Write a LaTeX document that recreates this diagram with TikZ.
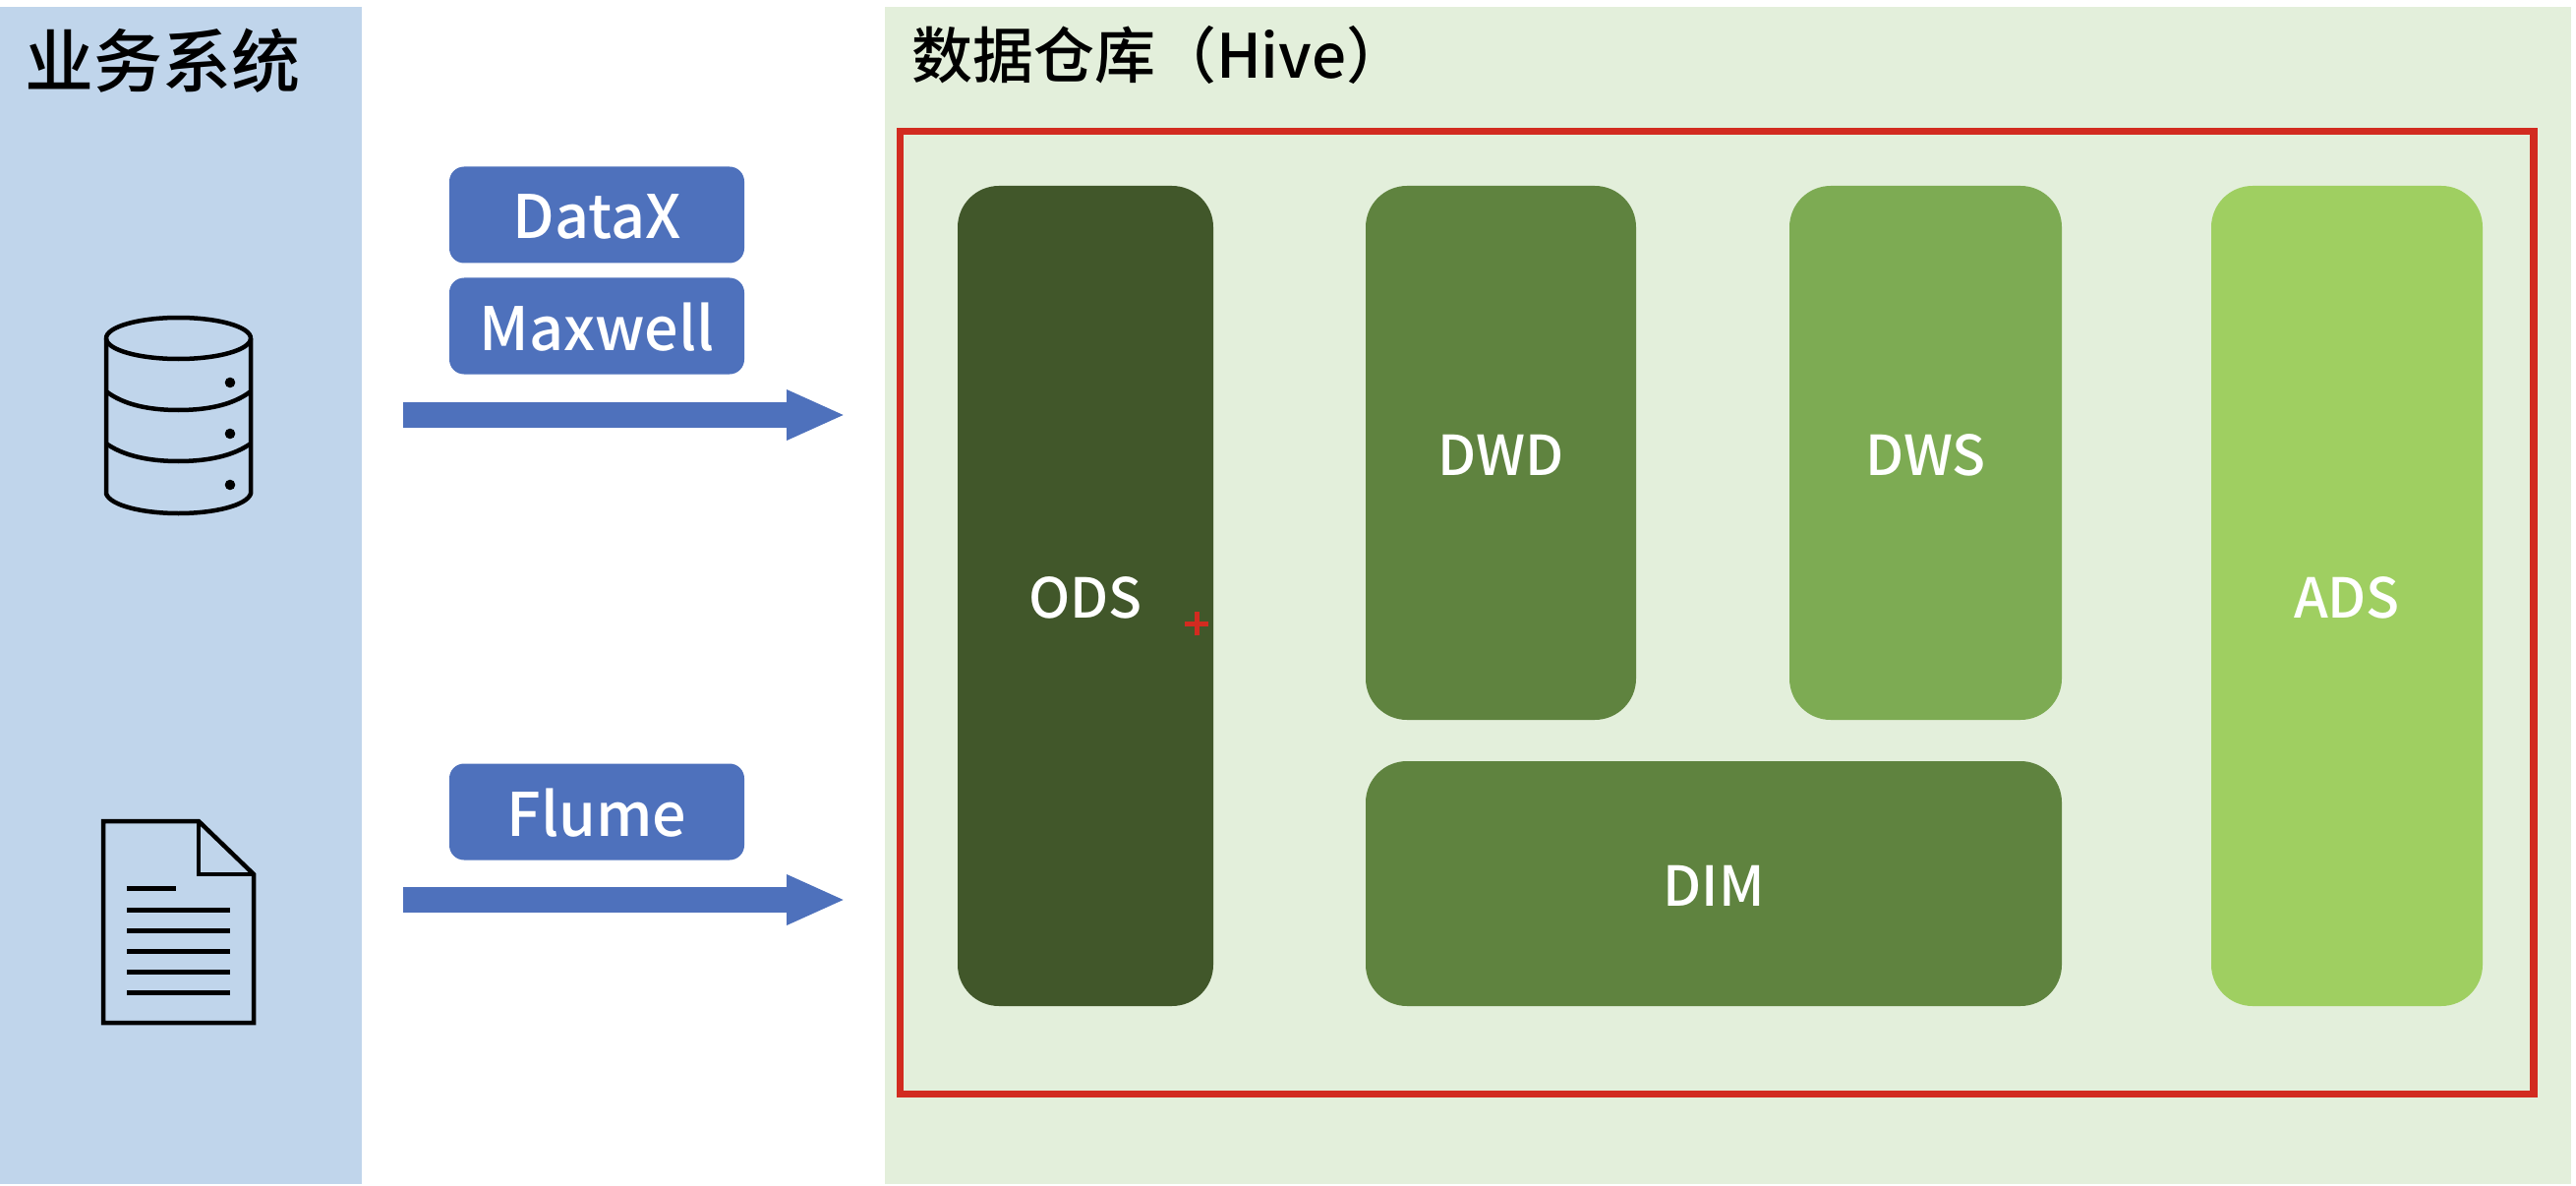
\documentclass[tikz,border=0pt]{standalone}
\usepackage{fontspec}
\setmainfont{Noto Sans CJK SC}
\newfontfamily\lblfont{Noto Sans CJK SC Medium}
\usetikzlibrary{arrows.meta}
\tikzset{
  x=1pt,y=-1pt,
  panel/.style={draw=none,minimum width=#1,inner sep=0pt,outer sep=0pt},
  layer/.style={rounded corners=42pt,draw=none,inner sep=0pt,outer sep=0pt,text=white,text height=45pt,text depth=0pt,font=\lblfont\fontsize{56}{58}\selectfont},
  tool/.style={rounded corners=15pt,draw=none,fill=toolblue,inner sep=0pt,outer sep=0pt,minimum width=300pt,minimum height=98pt,text=white,text height=49pt,text depth=0pt,font=\lblfont\fontsize{61}{63}\selectfont},
  flow/.style={draw=toolblue,line width=26pt,-{Triangle[length=60pt,width=47pt]}},
  icon/.style={draw=black,line width=4.5pt,line join=round},
  docline/.style={draw=black,line width=5pt},
  title/.style={anchor=west,inner sep=0pt,outer sep=0pt,text=black}
}
\definecolor{toolblue}{HTML}{4E71BC}
\definecolor{sysblue}{HTML}{C0D5EB}
\definecolor{wgreen}{HTML}{E3EFDB}
\definecolor{redline}{HTML}{D22B20}
\definecolor{cods}{HTML}{41572A}
\definecolor{cdwd}{HTML}{5F833F}
\definecolor{cdws}{HTML}{7DAB53}
\definecolor{cads}{HTML}{9FCF61}
\begin{document}
\begin{tikzpicture}
\useasboundingbox (0,0) rectangle (2620,1206);
\fill[white] (0,0) rectangle (2620,1206);
\node[panel=368pt,fill=sysblue,minimum height=1197pt] (sys) at (184,605.5) {};
\node[panel=1715pt,fill=wgreen,minimum height=1197pt] (dw) at (1757.5,605.5) {};
\node[title,font=\lblfont\fontsize{70}{72}\selectfont] (systitle) at (25,62) {业务系统};
\node[title,font=\lblfont\fontsize{62}{64}\selectfont] (dwtitle) at (927,56) {数据仓库（Hive）};
\node[draw=redline,line width=7.5pt,inner sep=0pt,minimum width=1661.5pt,minimum height=979pt] (hive) at (1746.25,623) {};
\node[layer,fill=cods,minimum width=260pt,minimum height=834pt] (ods) at (1104,606) {ODS};
\node[layer,fill=cdwd,minimum width=275pt,minimum height=543pt] (dwd) at (1526.5,460.5) {DWD};
\node[layer,fill=cdws,minimum width=277pt,minimum height=543pt] (dws) at (1958.5,460.5) {DWS};
\node[layer,fill=cads,minimum width=276pt,minimum height=834pt] (ads) at (2387,606) {ADS};
\node[layer,fill=cdwd,minimum width=708pt,minimum height=249pt] (dim) at (1743,898.5) {DIM};
\node[tool] (datax) at (607,218.5) {DataX};
\node[tool] (maxwell) at (607,331.5) {Maxwell};
\node[tool] (flume) at (607,825.5) {Flume};
\coordinate (a1s) at (410,422);
\coordinate (a1e) at (860,422);
\coordinate (a2s) at (410,915);
\coordinate (a2e) at (860,915);
\draw[flow] (a1s) -- (a1e);
\draw[flow] (a2s) -- (a2e);
% database icon
\draw[icon] (181.5,344) ellipse [x radius=73.5pt,y radius=21pt];
\draw[icon] (108,344) -- (108,502) .. controls (112,514) and (145,522) .. (181.5,522) .. controls (218,522) and (251,514) .. (255,502) -- (255,344);
\draw[icon] (108,398) .. controls (125,411) and (150,417) .. (181.5,417) .. controls (213,417) and (238,411) .. (255,398);
\draw[icon] (108,451) .. controls (125,463) and (150,469) .. (181.5,469) .. controls (213,469) and (238,463) .. (255,451);
\fill (234,389) circle [radius=5.3pt];
\fill (234,441) circle [radius=5.3pt];
\fill (234,493) circle [radius=5.3pt];
% document icon
\draw[icon,line join=miter] (105,835) -- (202,835) -- (258,889) -- (258,1040) -- (105,1040) -- cycle;
\draw[icon,line join=miter] (202,835) -- (202,889) -- (258,889);
\draw[docline] (129,903) -- (179,903);
\draw[docline] (129,925) -- (234,925);
\draw[docline] (129,946) -- (234,946);
\draw[docline] (129,967) -- (234,967);
\draw[docline] (129,988) -- (234,988);
\draw[docline] (129,1009) -- (234,1009);
% red cursor mark
\draw[redline,line width=5pt] (1205,634) -- (1229,634);
\draw[redline,line width=5pt] (1217,622) -- (1217,646);
\end{tikzpicture}
\end{document}
